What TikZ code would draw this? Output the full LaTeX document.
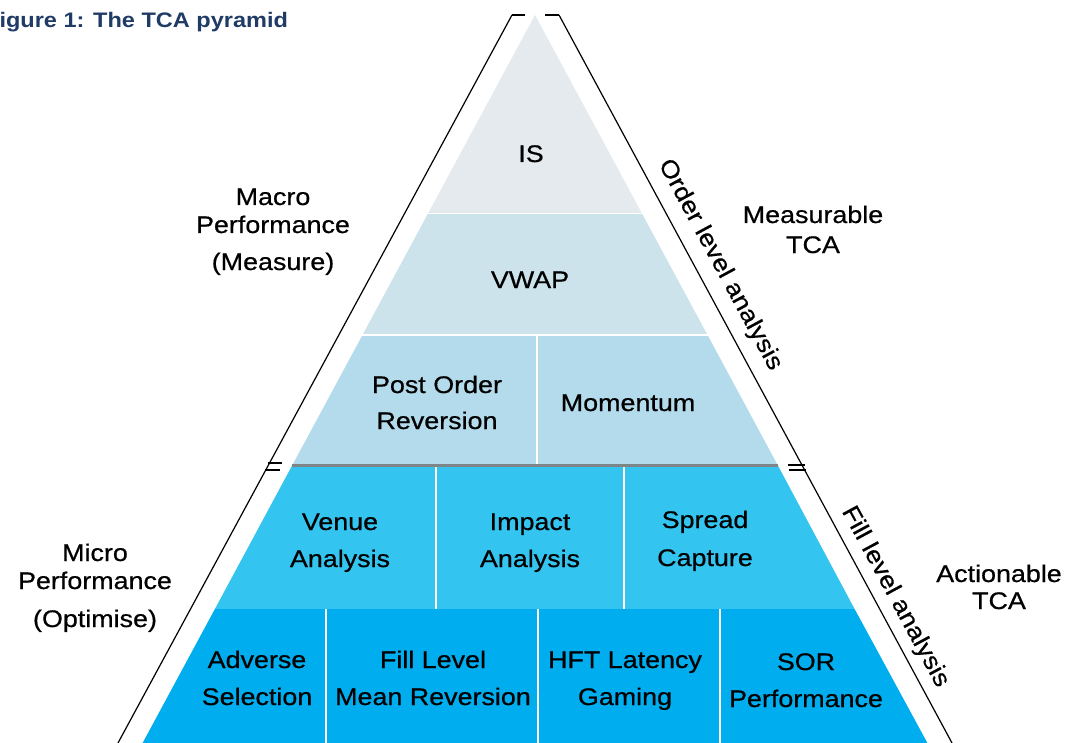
\documentclass[tikz,border=0pt]{standalone}
\usepackage{fontspec}
\setmainfont{Liberation Sans}[FakeStretch=1.12, UprightFeatures={FakeBold=0.6}]
\definecolor{tierA}{HTML}{E4EAEE}
\definecolor{tierB}{HTML}{CDE3EC}
\definecolor{tierC}{HTML}{B3DBEB}
\definecolor{tierD}{HTML}{33C4F0}
\definecolor{tierE}{HTML}{00ADEE}
\definecolor{splitgrey}{HTML}{7D8589}
\definecolor{titleblue}{HTML}{1F3B66}
\begin{document}
\begin{tikzpicture}[x=1pt,y=-1pt,
  lbl/.style={anchor=base, inner sep=0pt, font=\fontsize{24}{28}\selectfont},
  slant/.style={anchor=center, inner sep=0pt, rotate=-61.6, font=\fontsize{24}{28}\selectfont},
  sep/.style={white, line width=2pt},
  edge/.style={black, line width=1.2pt},
  tick/.style={black, line width=2pt}]
\useasboundingbox (0,0) rectangle (1067,743);
\fill[white] (0,0) rectangle (1067,743);

% title (its first letter runs past the left edge of the page)
\node[anchor=base west, inner sep=0pt, text=titleblue,
      font=\fontsize{21}{24}\selectfont\bfseries] (title) at (-15,28) {Figure 1: The TCA pyramid};

% pyramid tiers
\fill[tierA] (535,15) -- (641.7,213) -- (428.3,213) -- cycle;
\fill[tierB] (428.3,213) -- (641.7,213) -- (707.5,335) -- (362.5,335) -- cycle;
\fill[tierC] (362.5,335) -- (707.5,335) -- (777.6,465) -- (292.4,465) -- cycle;
\fill[tierD] (292.4,465) -- (777.6,465) -- (854.6,609) -- (214.9,609) -- cycle;
\fill[tierE] (214.9,609) -- (854.6,609) -- (927.4,743) -- (142.6,743) -- cycle;

% separators
\draw[sep, line width=1.5pt] (420,213.5) -- (650,213.5);
\draw[sep] (355,335) -- (715,335);
\draw[sep] (537,335) -- (537,464);
\draw[sep] (436,467) -- (436,609);
\draw[sep] (624,467) -- (624,609);
\draw[sep] (326,609) -- (326,743);
\draw[sep] (538,609) -- (538,743);
\draw[sep] (720,609) -- (720,743);
\draw[splitgrey, line width=3.5pt] (292.4,465.5) -- (777.6,465.5);

% outer guide lines with break marks
\coordinate (lt) at (512,15);
\coordinate (lb) at (118,743);
\coordinate (rt) at (559,15);
\coordinate (rb) at (952,743);
\draw[edge] (lt) -- (lb);
\draw[edge] (rt) -- (rb);
\draw[tick] (lt) -- ++(13,0);
\draw[tick] (rt) -- ++(-14,0);
\draw[tick] (268,463) -- (282,463);
\draw[tick] (265,470) -- (280,470);
\draw[tick] (788,465) -- (805,465);
\draw[tick] (789,470) -- (806,470);

% tier labels
\node[lbl] (is) at (531,162) {IS};
\node[lbl] (vwap) at (530,288) {VWAP};
\node[lbl] (poA) at (437,393) {Post Order};
\node[lbl] (poB) at (437,429) {Reversion};
\node[lbl] (mom) at (628,411) {Momentum};
\node[lbl] (vaA) at (340,530) {Venue};
\node[lbl] (vaB) at (340,567) {Analysis};
\node[lbl] (iaA) at (530,530) {Impact};
\node[lbl] (iaB) at (530,567) {Analysis};
\node[lbl] (scA) at (705,528) {Spread};
\node[lbl] (scB) at (705,566) {Capture};
\node[lbl] (asA) at (257,668) {Adverse};
\node[lbl] (asB) at (257,705) {Selection};
\node[lbl] (flA) at (433,668) {Fill Level};
\node[lbl] (flB) at (433,705) {Mean Reversion};
\node[lbl] (hfA) at (625,668) {HFT Latency};
\node[lbl] (hfB) at (625,705) {Gaming};
\node[lbl] (soA) at (806,670) {SOR};
\node[lbl] (soB) at (806,707) {Performance};

% side labels
\node[lbl] (maA) at (273,205) {Macro};
\node[lbl] (maB) at (273,233) {Performance};
\node[lbl] (maC) at (273,270) {(Measure)};
\node[lbl] (meA) at (813,223) {Measurable};
\node[lbl] (meB) at (813,253) {TCA};
\node[lbl] (miA) at (95,561) {Micro};
\node[lbl] (miB) at (95,589) {Performance};
\node[lbl] (miC) at (95,627) {(Optimise)};
\node[lbl] (acA) at (999,582) {Actionable};
\node[lbl] (acB) at (999,609) {TCA};

% rotated analysis labels
\node[slant] (order) at (720,265) {Order level analysis};
\node[slant] (fill) at (895,597) {Fill level analysis};
\end{tikzpicture}
\end{document}
